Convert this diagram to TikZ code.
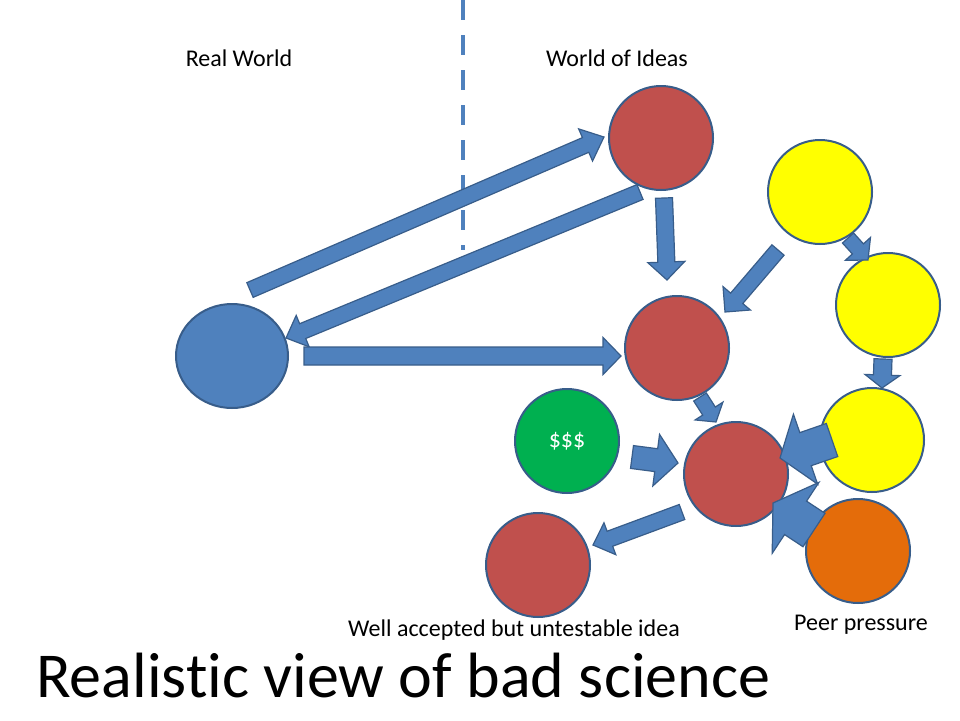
\documentclass[tikz,border=0pt]{standalone}
\usepackage{fontspec}
\setmainfont{Carlito}[Ligatures={NoCommon}]
\usetikzlibrary{calc,shapes.geometric}

\definecolor{accentblue}{HTML}{4F81BD}
\definecolor{outlineblue}{HTML}{385D8A}
\definecolor{ideared}{HTML}{C0504D}
\definecolor{moneygreen}{HTML}{00B050}
\definecolor{peeryellow}{HTML}{FFFF00}
\definecolor{peerorange}{HTML}{E46C0A}

\tikzset{
  bubble/.style={circle, draw=outlineblue, line width=2pt, minimum size=104pt, inner sep=0pt},
  blockarrow/.style={fill=accentblue, draw=outlineblue, line width=1.2pt, line join=miter},
  smalltext/.style={inner sep=0pt, font=\fontsize{24}{28}\selectfont},
  titletext/.style={inner sep=0pt, font=\fontsize{64}{72}\selectfont},
}

% block arrow: tail, tip, shaft width, head width, head length (all in pt)
\newcommand{\blockarrow}[5]{%
  \path[blockarrow] let \p1=(#1), \p2=(#2),
      \n1={atan2(\y2-\y1,\x2-\x1)}, \n2={veclen(\x2-\x1,\y2-\y1)} in
    {[shift={(\x1,\y1)}, rotate=\n1]
      (0pt,{#3pt/2}) -- ({\n2-#5pt},{#3pt/2}) -- ({\n2-#5pt},{#4pt/2})
      -- ({\n2+0pt},0pt) -- ({\n2-#5pt},{-#4pt/2}) -- ({\n2-#5pt},{-#3pt/2})
      -- (0pt,{-#3pt/2}) -- cycle};
}

\begin{document}
\begin{tikzpicture}[x=1pt, y=-1pt]
  \useasboundingbox (0,0) rectangle (960,720);
  \fill[white] (0,0) rectangle (960,720);

  % divider between the two worlds
  \coordinate (divtop) at (463,0);
  \coordinate (divbot) at (463,250);
  \draw[accentblue, line width=4pt, dash pattern=on 20pt off 15pt] (divtop) -- (divbot);

  % headings and captions
  \node[smalltext, anchor=base] (realworld) at (239,66) {Real World};
  \node[smalltext, anchor=base] (ideasworld) at (617,66) {World of Ideas};
  \node[smalltext, anchor=base] (accepted) at (514,636) {Well accepted but untestable idea};
  \node[smalltext, anchor=base] (peer) at (861,630) {Peer pressure};
  \node[titletext, anchor=base west] (title) at (36,697) {Realistic view of bad science};

  % bubbles
  \node[ellipse, draw=outlineblue, line width=2pt, fill=accentblue,
        minimum width=112pt, minimum height=104pt, inner sep=0pt] (real) at (232,356) {};
  \node[bubble, fill=ideared] (idea) at (661,138) {};
  \node[bubble, fill=ideared] (theory) at (677,348) {};
  \node[bubble, fill=moneygreen, text=white, font=\fontsize{24}{28}\selectfont] (money) at (567,441) {\$\$\$};
  \node[bubble, fill=ideared] (dogma) at (736,474) {};
  \node[bubble, fill=ideared] (untestable) at (538,565) {};
  \node[bubble, fill=peeryellow] (yelA) at (820,192) {};
  \node[bubble, fill=peeryellow] (yelB) at (888,305) {};
  \node[bubble, fill=peeryellow] (yelC) at (872,440) {};
  \node[bubble, fill=peerorange] (pressure) at (858,551) {};

  % arrow ends
  \coordinate (realOut)    at (250,290);
  \coordinate (ideaIn)     at (604,137);
  \coordinate (ideaBack)   at (640,192);
  \coordinate (realIn)     at (286,338);
  \coordinate (realRight)  at (304,356);
  \coordinate (theoryIn)   at (621,356);
  \coordinate (ideaDown)   at (664,198);
  \coordinate (theoryTop)  at (667,280);
  \coordinate (yelAOut)    at (778,250);
  \coordinate (theoryNE)   at (725,312);
  \coordinate (yelAStep)   at (848,238);
  \coordinate (yelBIn)     at (868,260);
  \coordinate (yelBStep)   at (883,359);
  \coordinate (yelCIn)     at (882,388);
  \coordinate (theoryOut)  at (700,397);
  \coordinate (dogmaTop)   at (716,422);
  \coordinate (moneyOut)   at (632,457);
  \coordinate (dogmaWest)  at (678,463);
  \coordinate (dogmaOut)   at (682,512);
  \coordinate (untestIn)   at (593,545);
  \coordinate (yelCPush)   at (832,440);
  \coordinate (dogmaEast)  at (780,458);
  \coordinate (pressPush)  at (814,530);
  \coordinate (dogmaSE)    at (773,503);

  % arrows
  \blockarrow{realOut}{ideaIn}{16}{35}{20}
  \blockarrow{ideaBack}{realIn}{16}{34}{18}
  \blockarrow{realRight}{theoryIn}{18}{37}{18}
  \blockarrow{ideaDown}{theoryTop}{17}{37}{18}
  \blockarrow{yelAOut}{theoryNE}{16}{36}{18}
  \blockarrow{yelAStep}{yelBIn}{15}{34}{15}
  \blockarrow{yelBStep}{yelCIn}{18}{35}{13}
  \blockarrow{theoryOut}{dogmaTop}{15}{33}{13}
  \blockarrow{moneyOut}{dogmaWest}{23}{52}{22}
  \blockarrow{dogmaOut}{untestIn}{16}{34}{18}
  \blockarrow{yelCPush}{dogmaEast}{35}{74}{27}
  \blockarrow{pressPush}{dogmaSE}{40}{85}{27}
\end{tikzpicture}
\end{document}
